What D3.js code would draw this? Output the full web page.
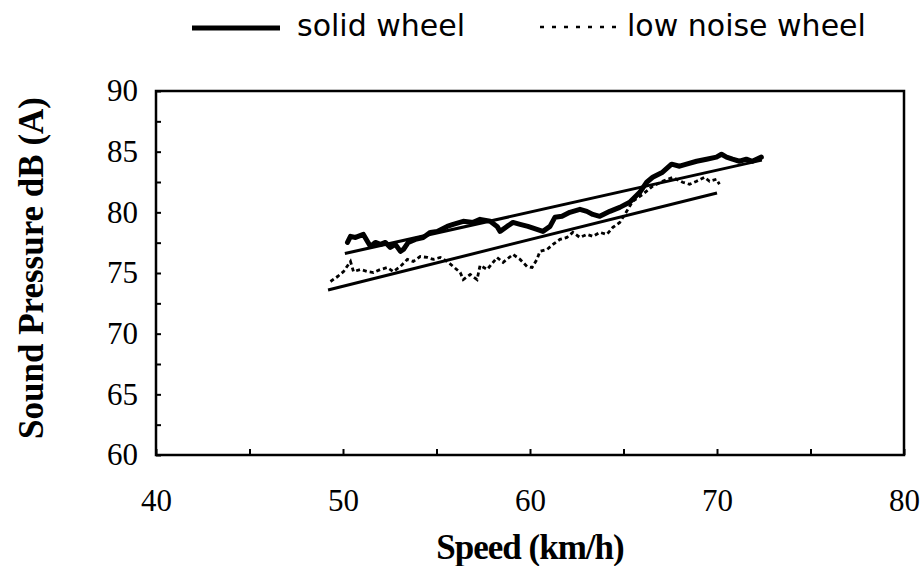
<!DOCTYPE html>
<html>
<head>
<meta charset="utf-8">
<script src="https://cdn.jsdelivr.net/npm/d3@7"></script>
<style>
  body { margin: 0; background: #fff; }
  svg { display: block; }
</style>
</head>
<body>
<svg id="chart" width="923" height="566"></svg>
<script>
// solid wheel trace (speed km/h, level dB(A))
const solidSpeed = [50.24, 50.4, 50.67, 51.09, 51.31, 51.47, 51.73, 52.0, 52.27, 52.53, 52.8, 53.07, 53.23, 53.49,
  53.87, 54.29, 54.67, 55.04, 55.57, 55.89, 56.43, 56.96, 57.33, 57.87, 58.24, 58.4, 58.77, 59.09, 59.47, 59.89,
  60.37, 60.69, 61.07, 61.33, 61.71, 62.13, 62.67, 63.04, 63.36, 63.73, 64.27, 64.8, 65.33, 65.87, 66.24, 66.56,
  67.09, 67.57, 68.0, 68.37, 68.91, 69.44, 69.97, 70.24, 70.51, 70.83, 71.2, 71.57, 71.89, 72.37]
const solidLevel = [77.52, 78.02, 77.93, 78.18, 77.6, 77.19, 77.52, 77.36, 77.52, 77.11, 77.36, 76.78, 76.94, 77.52,
  77.77, 77.93, 78.35, 78.43, 78.84, 79.01, 79.26, 79.17, 79.42, 79.26, 78.84, 78.43, 78.84, 79.17, 79.01, 78.84,
  78.6, 78.43, 78.84, 79.59, 79.67, 80.0, 80.25, 80.08, 79.83, 79.67, 80.08, 80.41, 80.83, 81.65, 82.48, 82.89,
  83.31, 83.97, 83.8, 83.97, 84.21, 84.38, 84.55, 84.79, 84.55, 84.38, 84.21, 84.38, 84.21, 84.55]

// low noise wheel trace
const lowSpeed = [49.33, 49.71, 50.03, 50.4, 50.56, 50.93, 51.31, 51.63, 52.0, 52.37, 52.69, 53.07, 53.44, 53.76,
  54.13, 54.51, 54.83, 55.2, 55.57, 55.89, 56.27, 56.43, 56.8, 57.17, 57.33, 57.71, 58.24, 58.56, 59.09, 59.47,
  59.84, 60.11, 60.37, 60.53, 60.91, 61.23, 61.6, 61.97, 62.29, 62.67, 63.04, 63.36, 63.73, 64.11, 64.43, 64.8,
  65.17, 65.49, 66.03, 66.56, 67.09, 67.63, 68.16, 68.53, 68.91, 69.33, 69.6, 69.97, 70.13]
const lowLevel = [74.3, 74.71, 75.12, 75.95, 75.12, 75.29, 75.12, 75.04, 75.29, 75.45, 75.12, 75.54, 76.12, 75.95,
  76.36, 76.28, 76.12, 76.28, 75.95, 75.54, 75.04, 74.46, 74.88, 74.46, 75.62, 75.29, 76.28, 75.87, 76.53, 76.12,
  75.54, 75.45, 76.12, 76.78, 76.94, 77.36, 77.77, 77.93, 78.35, 77.93, 78.18, 78.02, 78.35, 78.18, 78.76, 79.17,
  80.08, 80.91, 81.49, 82.15, 82.56, 82.89, 82.48, 82.31, 82.56, 82.89, 82.56, 82.73, 82.31]

// fitted straight lines [start, end]
const solidFitSpeed = [50.1, 72.4]
const solidFitLevel = [76.6, 84.3]
const lowFitSpeed = [49.2, 70.0]
const lowFitLevel = [73.6, 81.6]

const xTicks = d3.range(40, 80.1, 5)
const yTicks = d3.range(60, 90.1, 2.5)
const legendLabels = ['solid wheel', 'low noise wheel']

const plotLeft = 156
const plotRight = 904
const plotTop = 91
const plotBottom = 455

let svg = d3.select('#chart')

let x = d3.scaleLinear().domain([40, 80]).range([plotLeft, plotRight])
let y = d3.scaleLinear().domain([60, 90]).range([plotBottom, plotTop])

let serif = '"Liberation Serif", "Times New Roman", serif'

// y axis, ticks point inward
let yAxis = svg.append('g')
    .attr('transform', 'translate(' + plotLeft + ',0)')
    .call(d3.axisLeft(y)
      .tickValues(yTicks)
      .tickSize(-5)
      .tickPadding(18)
      .tickFormat(d => d % 5 === 0 ? d : ''))
yAxis.select('.domain').remove()

let xAxis = svg.append('g')
    .attr('transform', 'translate(0,' + plotBottom + ')')
    .call(d3.axisBottom(x)
      .tickValues(xTicks)
      .tickSize(-6)
      .tickPadding(34)
      .tickFormat(d => d % 10 === 0 ? d : ''))
xAxis.select('.domain').remove()

svg.selectAll('.tick line')
    .attr('stroke', '#000')
    .attr('stroke-width', 2)
svg.selectAll('.tick text')
    .attr('fill', '#000')
    .style('font-family', serif)
    .style('font-size', '31px')

// plot frame
svg.append('rect')
    .attr('x', plotLeft)
    .attr('y', plotTop)
    .attr('width', plotRight - plotLeft)
    .attr('height', plotBottom - plotTop)
    .attr('fill', 'none')
    .attr('stroke', '#000')
    .attr('stroke-width', 2.5)

let line = d3.line()
    .x(d => x(d[0]))
    .y(d => y(d[1]))

let solid = d3.zip(solidSpeed, solidLevel)
let low = d3.zip(lowSpeed, lowLevel)

// fitted lines
svg.append('path')
    .datum(d3.zip(solidFitSpeed, solidFitLevel))
    .attr('d', line)
    .attr('fill', 'none')
    .attr('stroke', '#000')
    .attr('stroke-width', 3)

svg.append('path')
    .datum(d3.zip(lowFitSpeed, lowFitLevel))
    .attr('d', line)
    .attr('fill', 'none')
    .attr('stroke', '#000')
    .attr('stroke-width', 3)

// measured traces
svg.append('path')
    .datum(solid)
    .attr('d', line)
    .attr('fill', 'none')
    .attr('stroke', '#000')
    .attr('stroke-width', 5)
    .attr('stroke-linejoin', 'round')
    .attr('stroke-linecap', 'round')

svg.append('path')
    .datum(low)
    .attr('d', line)
    .attr('fill', 'none')
    .attr('stroke', '#000')
    .attr('stroke-width', 2.8)
    .attr('stroke-dasharray', '4,3')

// axis titles
svg.append('text')
    .attr('transform', 'translate(43,268) rotate(-90)')
    .attr('text-anchor', 'middle')
    .style('font-family', serif)
    .style('font-weight', 'bold')
    .style('font-size', '35px')
    .text('Sound Pressure  dB (A)')

svg.append('text')
    .attr('x', 530)
    .attr('y', 559)
    .attr('text-anchor', 'middle')
    .style('font-family', serif)
    .style('font-weight', 'bold')
    .style('font-size', '35px')
    .style('letter-spacing', '-1px')
    .text('Speed (km/h)')

// legend
let legend = svg.append('g')
legend.append('line')
    .attr('x1', 192).attr('x2', 280)
    .attr('y1', 28).attr('y2', 28)
    .attr('stroke', '#000')
    .attr('stroke-width', 5)
legend.append('line')
    .attr('x1', 540).attr('x2', 624)
    .attr('y1', 27).attr('y2', 27)
    .attr('stroke', '#000')
    .attr('stroke-width', 2.5)
    .attr('stroke-dasharray', '4,8')
legend.selectAll('text.lab')
    .data(legendLabels)
  .enter().append('text')
    .attr('class', 'lab')
    .attr('x', (d, i) => i === 0 ? 297 : 627)
    .attr('y', 36)
    .style('font-family', '"DejaVu Sans", sans-serif')
    .style('font-size', '30px')
    .text(d => d)
</script>
</body>
</html>
